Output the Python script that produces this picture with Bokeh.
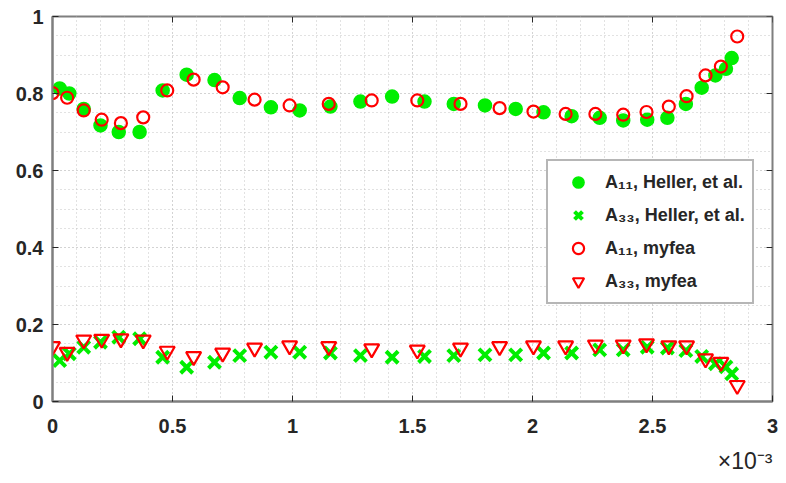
from bokeh.plotting import figure
from bokeh.models import Legend, LegendItem, Title, FixedTicker
from bokeh.embed import file_html
from bokeh.resources import INLINE
import numpy as np

# x values in units of 1e-3
heller_x = [0.03, 0.07, 0.13, 0.20, 0.276, 0.363, 0.459, 0.559, 0.675, 0.78, 0.91, 1.03, 1.158, 1.283, 1.415,
            1.55, 1.672, 1.802, 1.93, 2.046, 2.163, 2.28, 2.378, 2.478, 2.562, 2.639, 2.705, 2.762, 2.806, 2.83]
heller_a11 = [0.813, 0.80, 0.76, 0.717, 0.70, 0.70, 0.808, 0.849, 0.835, 0.788, 0.764, 0.756, 0.766, 0.779, 0.792,
              0.779, 0.773, 0.769, 0.76, 0.751, 0.741, 0.737, 0.73, 0.732, 0.737, 0.773, 0.815, 0.847, 0.864, 0.892]
heller_a33 = [0.106, 0.124, 0.141, 0.154, 0.167, 0.163, 0.115, 0.089, 0.102, 0.119, 0.128, 0.128, 0.126, 0.119, 0.115,
              0.117, 0.119, 0.121, 0.121, 0.126, 0.126, 0.134, 0.134, 0.141, 0.139, 0.132, 0.117, 0.098, 0.09, 0.072]

myfea_x = [0.0, 0.061, 0.13, 0.205, 0.285, 0.378, 0.478, 0.588, 0.709, 0.842, 0.988, 1.151, 1.33,
           1.52, 1.70, 1.863, 2.004, 2.138, 2.262, 2.378, 2.475, 2.568, 2.642, 2.721, 2.785, 2.853]
myfea_a11 = [0.801, 0.789, 0.756, 0.732, 0.723, 0.738, 0.808, 0.836, 0.816, 0.784, 0.769, 0.773, 0.782,
             0.782, 0.773, 0.762, 0.753, 0.747, 0.747, 0.745, 0.752, 0.766, 0.793, 0.847, 0.870, 0.948]
myfea_a33 = [0.143, 0.128, 0.16, 0.162, 0.163, 0.16, 0.131, 0.117, 0.126, 0.139, 0.145, 0.143, 0.137,
             0.134, 0.139, 0.143, 0.145, 0.145, 0.147, 0.147, 0.15, 0.145, 0.145, 0.111, 0.102, 0.042]

x_ticks = [0, 0.5, 1, 1.5, 2, 2.5, 3]
x_tick_labels = ["0", "0.5", "1", "1.5", "2", "2.5", "3"]
y_ticks = [0, 0.2, 0.4, 0.6, 0.8, 1]
y_tick_labels = ["0", "0.2", "0.4", "0.6", "0.8", "1"]
x_multiplier = "\u00d710\u207b\u00b3"
legend_labels = ["A\u2081\u2081, Heller, et al.", "A\u2083\u2083, Heller, et al.",
                 "A\u2081\u2081, myfea", "A\u2083\u2083, myfea"]

FONT = "Liberation Sans"
TXT = "#262626"
AX = "#7f7f7f"
GREEN = "#00ee00"
RED = "#ff0000"

p = figure(width=786, height=483, x_range=(0, 3), y_range=(0, 1),
           output_backend="svg", toolbar_location=None,
           min_border_left=52, min_border_right=14, min_border_top=16, min_border_bottom=82)

x_minor = list(np.round(np.arange(0, 3.0001, 0.1), 3))
y_minor = list(np.round(np.arange(0, 1.0001, 0.05), 3))
xt = FixedTicker(ticks=x_ticks, minor_ticks=x_minor)
yt = FixedTicker(ticks=y_ticks, minor_ticks=y_minor)

for ax in (p.xaxis[0], p.yaxis[0]):
    ax.axis_line_color = AX
    ax.axis_line_width = 2
    ax.major_tick_in = 6
    ax.major_tick_out = 0
    ax.minor_tick_in = 0
    ax.minor_tick_out = 0
    ax.major_tick_line_color = TXT
    ax.major_tick_line_width = 1
    ax.major_label_text_font = FONT
    ax.major_label_text_font_style = "bold"
    ax.major_label_text_font_size = "20px"
    ax.major_label_text_color = TXT

p.xaxis[0].ticker = xt
p.yaxis[0].ticker = yt
p.xaxis[0].major_label_overrides = {t: l for t, l in zip(x_ticks, x_tick_labels)}
p.yaxis[0].major_label_overrides = {t: l for t, l in zip(y_ticks, y_tick_labels)}
p.xaxis[0].major_label_standoff = 17
p.yaxis[0].major_label_standoff = 9

p.outline_line_color = AX
p.outline_line_width = 2

for g in (p.xgrid[0], p.ygrid[0]):
    g.grid_line_color = "#c4c4c4"
    g.grid_line_dash = "1 3"
    g.grid_line_width = 1
    g.minor_grid_line_color = "#c4c4c4"
    g.minor_grid_line_dash = "1 3"
    g.minor_grid_line_width = 1
p.xgrid[0].ticker = xt
p.ygrid[0].ticker = yt

# inward tick marks on the top and right edges of the box
p.ray(x=x_ticks, y=[1] * len(x_ticks), length=6, length_units="screen", angle=-np.pi / 2,
      line_color=TXT, line_width=1)
p.ray(x=[3] * len(y_ticks), y=y_ticks, length=6, length_units="screen", angle=np.pi,
      line_color=TXT, line_width=1)

r1 = p.scatter(heller_x, heller_a11, marker="circle", size=13, fill_color=GREEN, line_color=GREEN, line_width=1.5)
r2 = p.scatter(heller_x, heller_a33, marker="x", size=17, line_color=GREEN, line_width=4)
r3 = p.scatter(myfea_x, myfea_a11, marker="circle", size=12, fill_color=None, line_color=RED, line_width=2.2)
r4 = p.scatter(myfea_x, myfea_a33, marker="inverted_triangle", size=15, fill_color=None, line_color=RED, line_width=2.2)

legend = Legend(items=[LegendItem(label=legend_labels[0], renderers=[r1]),
                       LegendItem(label=legend_labels[1], renderers=[r2]),
                       LegendItem(label=legend_labels[2], renderers=[r3]),
                       LegendItem(label=legend_labels[3], renderers=[r4])],
                location=(494, 97),
                label_text_font=FONT, label_text_font_style="bold", label_text_font_size="18px",
                label_text_color=TXT, border_line_color="#6e6e6e", border_line_width=2,
                background_fill_color="white", background_fill_alpha=1,
                padding=7, spacing=5, glyph_width=46, glyph_height=28, label_height=28,
                label_standoff=4, margin=0)
p.add_layout(legend)

p.add_layout(Title(text=x_multiplier, align="right", text_font=FONT, text_font_size="23px",
                   text_font_style="normal", text_color=TXT, standoff=20), "below")

open("out.html", "w").write(file_html(p, INLINE))
